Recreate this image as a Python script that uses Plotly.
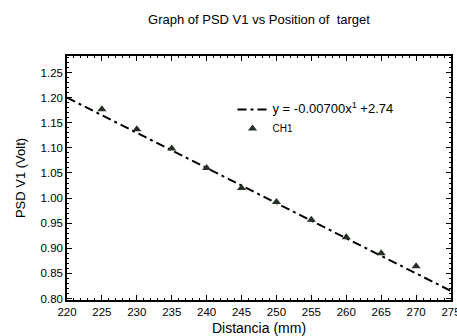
import plotly.graph_objects as go

# Data
distance_mm = [225, 230, 235, 240, 245, 250, 255, 260, 265, 270]
psd_v1 = [1.177, 1.137, 1.099, 1.060, 1.020, 0.992, 0.957, 0.922, 0.890, 0.864]

fit_x = [220, 275]
fit_y = [1.200, 0.815]  # y = -0.00700x + 2.74

x_ticks = [220, 225, 230, 235, 240, 245, 250, 255, 260, 265, 270, 275]
y_ticks = [0.80, 0.85, 0.90, 0.95, 1.00, 1.05, 1.10, 1.15, 1.20, 1.25]

FONT = "Liberation Sans, Arial, sans-serif"

fig = go.Figure()
fig.add_trace(go.Scatter(
    x=fit_x, y=fit_y, mode="lines",
    name="<span style='font-size:13px'>y = -0.00700x<sup>1</sup> +2.74</span>",
    line=dict(color="black", width=2, dash="9px,4px,3px,4px"),
))
fig.add_trace(go.Scatter(
    x=distance_mm, y=psd_v1, mode="markers", name="CH1",
    marker=dict(symbol="triangle-up", size=8, color="#263026"),
))

axis_common = dict(
    showline=True, linecolor="black", linewidth=1.5, mirror="ticks",
    ticks="inside", ticklen=5, tickwidth=1, tickcolor="black",
    showgrid=False, zeroline=False, automargin=False,
    tickfont=dict(family=FONT, size=11.5, color="black"),
)

fig.update_xaxes(
    range=[220, 275], tickvals=x_ticks, ticklabeloverflow="allow",
    minor=dict(ticks="inside", dtick=1, ticklen=2, tickcolor="black", showgrid=False),
    title=dict(text="Distancia (mm)", font=dict(family=FONT, size=14, color="black"), standoff=9),
    **axis_common,
)
fig.update_yaxes(
    range=[0.797, 1.283], tickvals=y_ticks, tickformat=".2f",
    minor=dict(ticks="inside", dtick=0.01, ticklen=2, tickcolor="black", showgrid=False),
    title=dict(text="PSD V1 (Volt)", font=dict(family=FONT, size=13, color="black"), standoff=12),
    **axis_common,
)

fig.update_layout(
    width=457, height=336,
    margin=dict(l=67, r=6, t=56, b=36, autoexpand=False),
    paper_bgcolor="white", plot_bgcolor="white",
    title=dict(text="Graph of PSD V1 vs Position of  target",
               x=0.5, xref="paper", y=0.9435, yanchor="middle", automargin=False,
               font=dict(family=FONT, size=13, color="black")),
    showlegend=True,
    legend=dict(x=0.431, y=0.84, xanchor="left", yanchor="top",
                bgcolor="rgba(0,0,0,0)", borderwidth=0,
                font=dict(family=FONT, size=10, color="black"),
                tracegroupgap=0),
)

# Remove the page's default body margin so the figure fills the window exactly
fig.write_html("out.html",
               config={"displayModeBar": False},
               post_script="document.body.style.margin='0';document.body.style.overflow='hidden';")
